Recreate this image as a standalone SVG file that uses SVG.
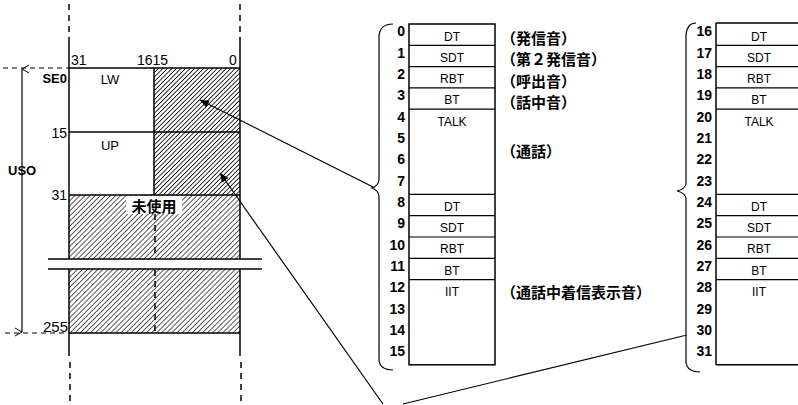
<svg xmlns="http://www.w3.org/2000/svg" width="798" height="405" viewBox="0 0 798 405">
<style>
.ln{stroke:#000;stroke-width:1.5;fill:none}
.thin{stroke:#000;stroke-width:1.2;fill:none}
.dash{stroke:#000;stroke-width:1.5;fill:none;stroke-dasharray:6,5}
.hdash{stroke:#000;stroke-width:1;fill:none;stroke-dasharray:5,4}
.t{font-family:"Liberation Sans",Arial,sans-serif;fill:#000}
.lbl{font-size:14px}
.num{font-size:14px;font-weight:bold;text-anchor:end}
.cell{font-size:12px;text-anchor:middle}
.jp{font-family:"Noto Sans CJK JP","Noto Sans CJK SC",sans-serif;font-size:15px;font-weight:bold;fill:#000}
</style>
<defs>
<pattern id="h1" width="3.2" height="3.2" patternUnits="userSpaceOnUse" patternTransform="rotate(45)">
<line x1="0" y1="0" x2="0" y2="3.2" stroke="#000" stroke-width="1.6"/>
</pattern>
<pattern id="h2" width="3.6" height="3.6" patternUnits="userSpaceOnUse" patternTransform="rotate(45)">
<line x1="0" y1="0" x2="0" y2="3.6" stroke="#000" stroke-width="1.3"/>
</pattern>
<marker id="arr" markerWidth="10" markerHeight="10" refX="9" refY="5" orient="auto" markerUnits="userSpaceOnUse">
<path d="M0,1 L9,5 L0,9 Z" fill="#000"/>
</marker>
<marker id="open" markerWidth="10" markerHeight="10" refX="5" refY="1" orient="auto-start-reverse" markerUnits="userSpaceOnUse">
<path d="M1,8 L5,1 L9,8" stroke="#000" stroke-width="1" fill="none"/>
</marker>
</defs>
<rect width="798" height="405" fill="#fff"/>

<g id="register-map">
<rect x="154" y="68" width="86" height="127" fill="url(#h1)"/>
<rect x="69" y="195" width="171" height="138" fill="url(#h2)"/>
<rect x="48" y="259" width="214" height="10" fill="#fff"/>
<rect x="126" y="196" width="56" height="18" fill="#fff"/>
<line class="dash" x1="69" y1="4" x2="69" y2="42"/>
<line class="dash" x1="240" y1="4" x2="240" y2="40"/>
<line class="ln" x1="69" y1="42" x2="69" y2="259"/>
<line class="ln" x1="69" y1="269" x2="69" y2="356"/>
<line class="ln" x1="240" y1="40" x2="240" y2="259"/>
<line class="ln" x1="240" y1="269" x2="240" y2="356"/>
<line class="dash" x1="70" y1="362" x2="70" y2="405"/>
<line class="dash" x1="241" y1="362" x2="241" y2="405"/>
<line class="ln" x1="69" y1="68" x2="240" y2="68"/>
<line class="ln" x1="69" y1="132" x2="240" y2="132"/>
<line class="ln" x1="69" y1="195" x2="240" y2="195"/>
<line class="ln" x1="69" y1="333" x2="240" y2="333"/>
<line class="ln" x1="154" y1="68" x2="154" y2="195"/>
<line class="dash" x1="155" y1="214" x2="155" y2="259" stroke-dasharray="5,3"/>
<line class="dash" x1="155" y1="270" x2="155" y2="333" stroke-dasharray="5,3"/>
<line class="ln" x1="48" y1="259" x2="262" y2="259"/>
<line class="ln" x1="48" y1="269" x2="262" y2="269"/>
<line class="hdash" x1="3" y1="68" x2="69" y2="68"/>
<line class="hdash" x1="5" y1="333" x2="69" y2="333"/>
<line class="thin" x1="22" y1="69" x2="22" y2="332" marker-start="url(#open)" marker-end="url(#open)"/>
<text class="t lbl" x="71" y="65">31</text>
<text class="t lbl" x="137" y="65">1615</text>
<text class="t lbl" x="229" y="65">0</text>
<text class="t" x="67" y="83" font-size="13" font-weight="bold" text-anchor="end">SE0</text>
<text class="t" x="110" y="84" font-size="13" text-anchor="middle">LW</text>
<text class="t lbl" x="67" y="138" text-anchor="end">15</text>
<text class="t" x="110" y="150" font-size="13" text-anchor="middle">UP</text>
<text class="t" x="8" y="175" font-size="13" font-weight="bold">USO</text>
<text class="t lbl" x="67" y="200" text-anchor="end">31</text>
<text class="jp" x="154" y="212" text-anchor="middle" font-size="16">未使用</text>
<text class="t" x="68" y="332" font-size="15" text-anchor="end">255</text>
</g>

<g id="table-0-15">
<rect x="409" y="24" width="86" height="340.8" class="ln"/>
<line class="thin" x1="409" y1="45.3" x2="495" y2="45.3"/>
<line class="thin" x1="409" y1="66.6" x2="495" y2="66.6"/>
<line class="thin" x1="409" y1="87.9" x2="495" y2="87.9"/>
<line class="thin" x1="409" y1="109.2" x2="495" y2="109.2"/>
<line class="thin" x1="409" y1="194.4" x2="495" y2="194.4"/>
<line class="thin" x1="409" y1="215.7" x2="495" y2="215.7"/>
<line class="thin" x1="409" y1="237" x2="495" y2="237"/>
<line class="thin" x1="409" y1="258.3" x2="495" y2="258.3"/>
<line class="thin" x1="409" y1="279.6" x2="495" y2="279.6"/>
<path class="thin" d="M393,24 Q380,24 379,36 L379,180 Q378,186 372,188 Q378,190 379,196 L379,360 Q380,370 393,370"/>
<text class="t num" x="405" y="36">0</text>
<text class="t num" x="405" y="57.5">1</text>
<text class="t num" x="405" y="79">2</text>
<text class="t num" x="405" y="100">3</text>
<text class="t num" x="405" y="122">4</text>
<text class="t num" x="405" y="143">5</text>
<text class="t num" x="405" y="164">6</text>
<text class="t num" x="405" y="186">7</text>
<text class="t num" x="405" y="207">8</text>
<text class="t num" x="405" y="228">9</text>
<text class="t num" x="405" y="250">10</text>
<text class="t num" x="405" y="271">11</text>
<text class="t num" x="405" y="292">12</text>
<text class="t num" x="405" y="314">13</text>
<text class="t num" x="405" y="335">14</text>
<text class="t num" x="405" y="356">15</text>
<text class="t cell" x="452" y="41">DT</text>
<text class="t cell" x="452" y="62">SDT</text>
<text class="t cell" x="452" y="83">RBT</text>
<text class="t cell" x="452" y="104">BT</text>
<text class="t cell" x="452" y="126">TALK</text>
<text class="t cell" x="452" y="211">DT</text>
<text class="t cell" x="452" y="232">SDT</text>
<text class="t cell" x="452" y="253">RBT</text>
<text class="t cell" x="452" y="275">BT</text>
<text class="t cell" x="452" y="296">IIT</text>
<text class="jp" x="501" y="44">（発信音）</text>
<text class="jp" x="501" y="65">（第２発信音）</text>
<text class="jp" x="501" y="87">（呼出音）</text>
<text class="jp" x="501" y="108">（話中音）</text>
<text class="jp" x="501" y="157">（通話）</text>
<text class="jp" x="501" y="298">（通話中着信表示音）</text>
</g>

<g id="table-16-31">
<line class="ln" x1="716" y1="23" x2="716" y2="364.8"/>
<line class="ln" x1="716" y1="23" x2="798" y2="23"/>
<line class="ln" x1="716" y1="364.8" x2="798" y2="364.8"/>
<line class="thin" x1="716" y1="45.3" x2="798" y2="45.3"/>
<line class="thin" x1="716" y1="66.6" x2="798" y2="66.6"/>
<line class="thin" x1="716" y1="87.9" x2="798" y2="87.9"/>
<line class="thin" x1="716" y1="109.2" x2="798" y2="109.2"/>
<line class="thin" x1="716" y1="194.4" x2="798" y2="194.4"/>
<line class="thin" x1="716" y1="215.7" x2="798" y2="215.7"/>
<line class="thin" x1="716" y1="237" x2="798" y2="237"/>
<line class="thin" x1="716" y1="258.3" x2="798" y2="258.3"/>
<line class="thin" x1="716" y1="279.6" x2="798" y2="279.6"/>
<path class="thin" d="M696,23 Q687,23 686,35 L686,184 Q685,189 677,191 Q685,193 686,198 L686,362 Q687,372 700,372"/>
<text class="t num" x="712" y="36">16</text>
<text class="t num" x="712" y="57.5">17</text>
<text class="t num" x="712" y="79">18</text>
<text class="t num" x="712" y="100">19</text>
<text class="t num" x="712" y="122">20</text>
<text class="t num" x="712" y="143">21</text>
<text class="t num" x="712" y="164">22</text>
<text class="t num" x="712" y="186">23</text>
<text class="t num" x="712" y="207">24</text>
<text class="t num" x="712" y="228">25</text>
<text class="t num" x="712" y="250">26</text>
<text class="t num" x="712" y="271">27</text>
<text class="t num" x="712" y="292">28</text>
<text class="t num" x="712" y="314">29</text>
<text class="t num" x="712" y="335">30</text>
<text class="t num" x="712" y="356">31</text>
<text class="t cell" x="759" y="41">DT</text>
<text class="t cell" x="759" y="62">SDT</text>
<text class="t cell" x="759" y="83">RBT</text>
<text class="t cell" x="759" y="104">BT</text>
<text class="t cell" x="759" y="126">TALK</text>
<text class="t cell" x="759" y="211">DT</text>
<text class="t cell" x="759" y="232">SDT</text>
<text class="t cell" x="759" y="253">RBT</text>
<text class="t cell" x="759" y="275">BT</text>
<text class="t cell" x="759" y="296">IIT</text>
</g>

<g id="connectors">
<path class="thin" d="M373,187 L200,100" marker-end="url(#arr)"/>
<path class="thin" d="M383,404 L220,173" marker-end="url(#arr)"/>
<path class="thin" d="M403,404 L687,335"/>
</g>
</svg>
